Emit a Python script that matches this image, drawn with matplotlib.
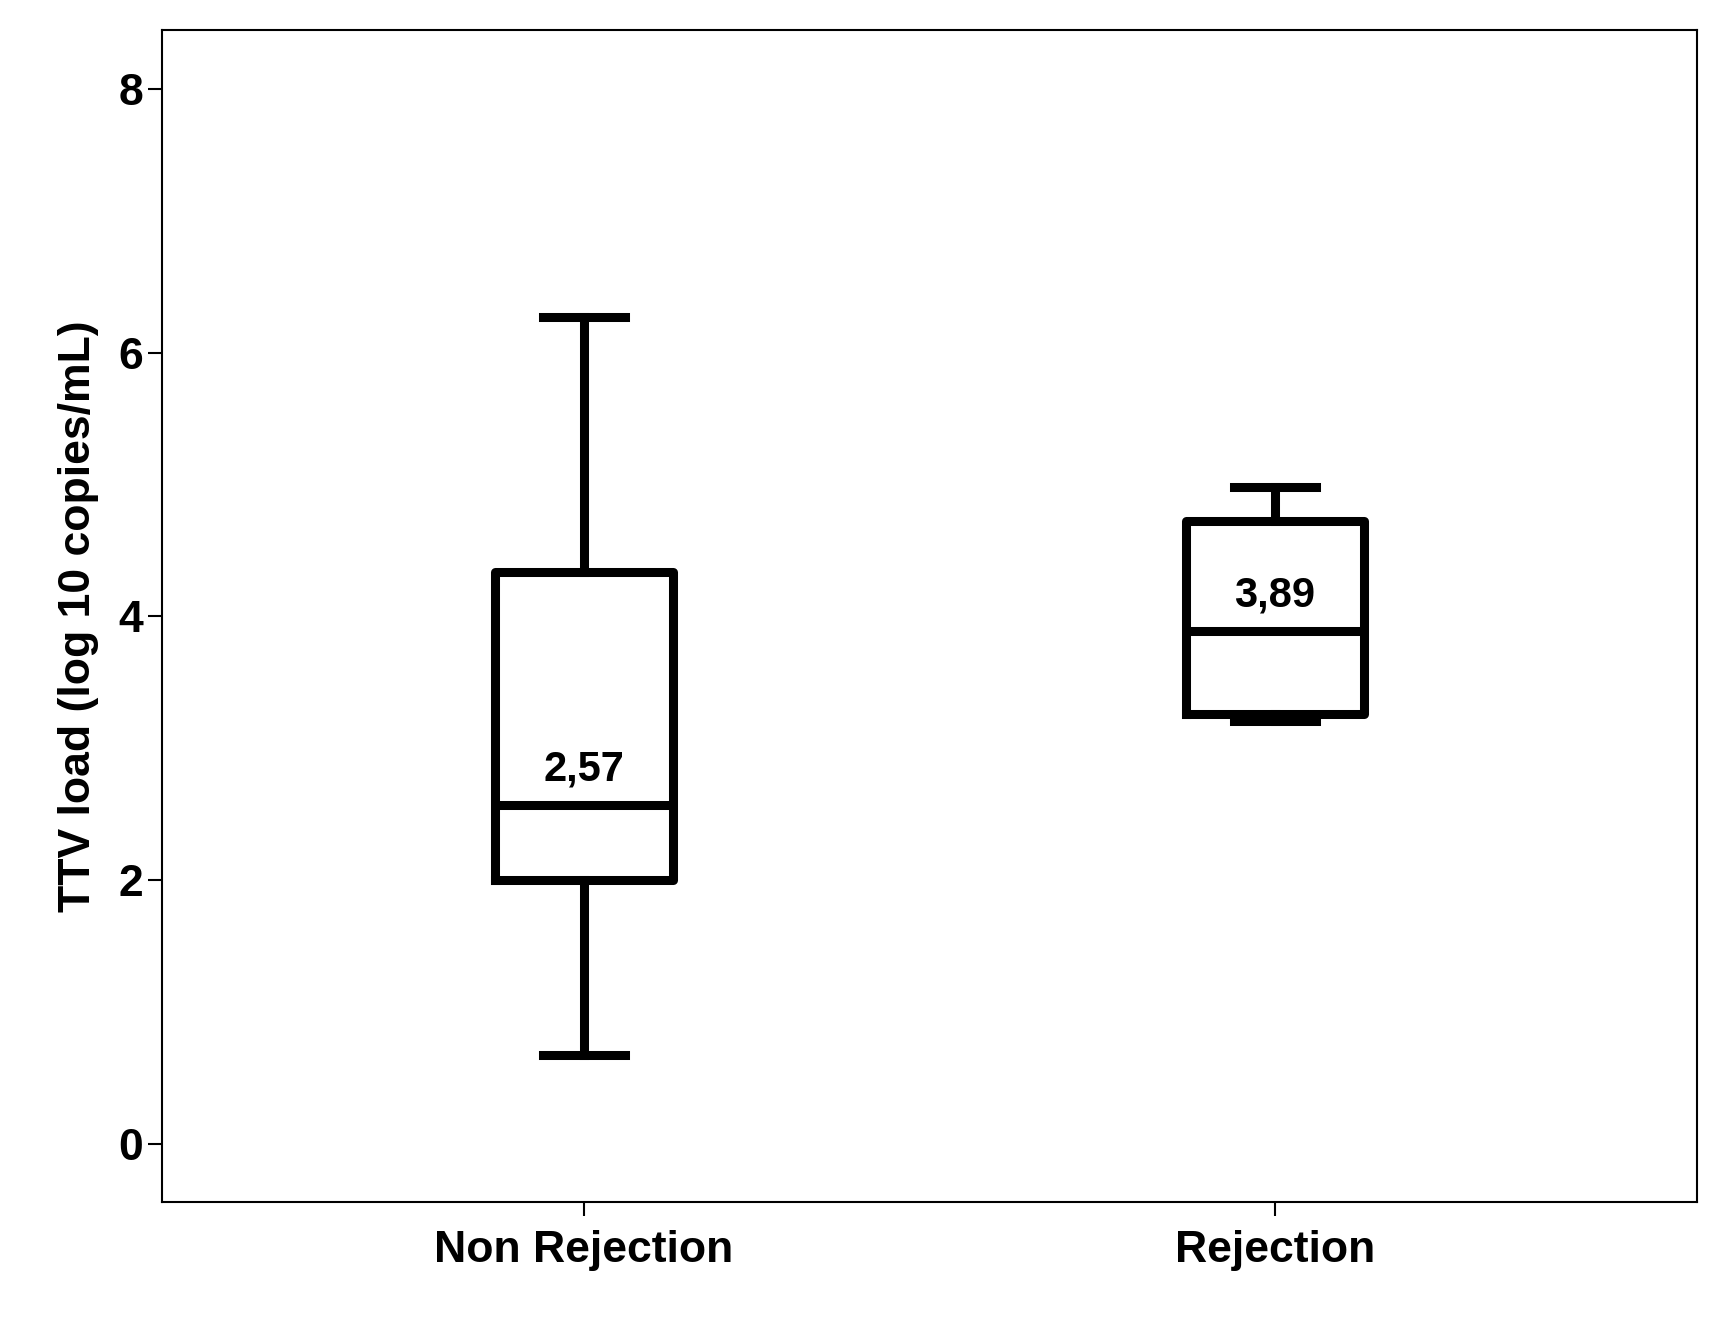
import matplotlib
matplotlib.use("Agg")
import matplotlib.pyplot as plt

plt.rcParams["font.family"] = ["Liberation Sans", "DejaVu Sans"]
plt.rcParams["font.weight"] = "bold"

groups = ["Non Rejection", "Rejection"]
whislo = [0.67, 3.21]
q1 = [2.00, 3.26]
med = [2.57, 3.89]
q3 = [4.34, 4.72]
whishi = [6.27, 4.98]
med_labels = ["2,57", "3,89"]

stats = [dict(label=g, whislo=a, q1=b, med=c, q3=d, whishi=e)
         for g, a, b, c, d, e in zip(groups, whislo, q1, med, q3, whishi)]

fig = plt.figure(figsize=(17.23, 13.17), dpi=100)
ax = fig.add_axes([0.094, 0.0875, 0.891, 0.89])
lw = 6.5
ax.bxp(stats, positions=[1, 2], widths=0.257, showfliers=False,
       boxprops=dict(lw=lw, color="black"),
       medianprops=dict(lw=lw, color="black"),
       whiskerprops=dict(lw=lw, color="black"),
       capprops=dict(lw=lw, color="black"),
       capwidths=0.118)
for i, (m, t) in enumerate(zip(med, med_labels)):
    ax.text(i + 1, m + 0.12, t, ha="center", va="bottom", fontsize=30, fontweight="bold")

ax.set_xlim(0.389, 2.611)
ax.set_ylim(-0.44, 8.45)
ax.set_yticks([0, 2, 4, 6, 8])
ax.set_xticklabels(groups)
ax.tick_params(axis="both", labelsize=32, length=10, width=1.5)
ax.tick_params(axis="x", pad=10)
for s in ax.spines.values():
    s.set_linewidth(1.5)
ax.set_ylabel("TTV load (log 10 copies/mL)", fontsize=32, fontweight="bold", labelpad=14)
fig.savefig("out.png", dpi=100)
